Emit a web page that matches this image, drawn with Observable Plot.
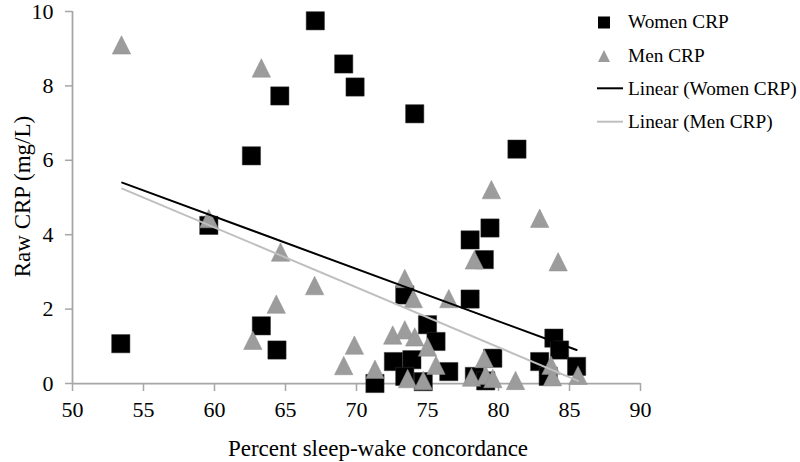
<!DOCTYPE html>
<html><head><meta charset="utf-8">
<script src="https://cdn.jsdelivr.net/npm/d3@7"></script>
<script src="https://cdn.jsdelivr.net/npm/@observablehq/plot@0.6"></script>
<style>
body{margin:0;background:#fff;}
#chart{position:relative;width:800px;height:462px;font-family:"Liberation Serif","Times New Roman",serif;}
#legend{position:absolute;left:590px;top:0;}
</style></head><body><div id="chart"></div>
<script>
// Women CRP (black squares)
const womenX = [53.4,59.6,62.6,63.3,64.4,64.6,67.1,69.1,69.9,74.1,81.3,71.3,73.4,78.0,79.4,78.0,79.0,75.0,75.6,72.6,73.9,73.4,74.7,76.5,79.6,78.3,79.1,83.9,84.3,82.9,85.5,83.5];
const womenY = [1.07,4.25,6.12,1.55,0.90,7.73,9.75,8.59,7.97,7.25,6.30,0.00,2.38,2.27,4.18,3.86,3.33,1.58,1.13,0.59,0.64,0.19,0.05,0.32,0.68,0.19,0.07,1.22,0.90,0.59,0.46,0.19];
// Men CRP (gray triangles)
const menX = [53.45,63.3,59.6,64.65,67.05,64.35,62.7,69.1,69.85,71.3,73.4,74.0,76.5,78.3,79.5,82.9,84.2,72.55,73.4,74.1,75.0,75.6,73.6,74.7,78.1,79.0,79.1,79.6,81.2,83.7,83.8,85.6];
const menY = [9.02,8.40,4.35,3.45,2.55,2.05,1.08,0.40,0.95,0.30,2.74,2.20,2.20,3.24,5.13,4.36,3.19,1.22,1.36,1.17,0.90,0.41,0.05,0.00,0.09,0.59,0.14,0.05,0.00,0.41,0.10,0.14];
// Linear trendlines (endpoints)
const womenTrendX = [53.5, 85.5];
const womenTrendY = [5.40, 0.90];
const menTrendX = [53.5, 85.6];
const menTrendY = [5.24, 0.07];
const xTicks = [50,55,60,65,70,75,80,85,90];
const yTicks = [0,2,4,6,8,10];
const xTitle = "Percent sleep-wake concordance";
const yTitle = "Raw CRP (mg/L)";
const legendLabels = ["Women CRP","Men CRP","Linear (Women CRP)","Linear (Men CRP)"];

const women = womenX.map((x,i)=>({x, y: womenY[i]}));
const men = menX.map((x,i)=>({x, y: menY[i]}));
const womenTrend = womenTrendX.map((x,i)=>({x, y: womenTrendY[i]}));
const menTrend = menTrendX.map((x,i)=>({x, y: menTrendY[i]}));

const isoTriangle = {
  draw(ctx, size) {
    const r = Math.sqrt(size / Math.PI);
    const h = 2 * r;
    ctx.moveTo(0, -2 * h / 3);
    ctx.lineTo(r, h / 3);
    ctx.lineTo(-r, h / 3);
    ctx.closePath();
  }
};

const axisGray = "#a6a6a6";
const plot = Plot.plot({
  width: 800, height: 462,
  marginLeft: 72, marginRight: 160, marginTop: 11, marginBottom: 79,
  style: {fontFamily: '"Liberation Serif","Times New Roman",serif', background: "#fff", color: "#000"},
  x: {domain: [50, 90]},
  y: {domain: [0, 10]},
  marks: [
    Plot.axisX({ticks: xTicks, tickSize: 8, tickPadding: 10, fontSize: 22, stroke: axisGray, strokeWidth: 1.5, fill: "#000", label: null}),
    Plot.axisY({ticks: yTicks, tickSize: 7, tickPadding: 12, fontSize: 22, stroke: axisGray, strokeWidth: 1.5, fill: "#000", label: null}),
    Plot.ruleY([0], {stroke: axisGray, strokeWidth: 1.75}),
    Plot.ruleX([50], {stroke: axisGray, strokeWidth: 1.75}),
    Plot.dot(women, {x: "x", y: "y", symbol: "square", r: 10.3, fill: "#000", stroke: "#333", strokeWidth: 0.5}),
    Plot.dot(men, {x: "x", y: "y", symbol: isoTriangle, r: 9.2, fill: "#9c9c9c", stroke: "#8f8f8f", strokeWidth: 0.5}),
    Plot.line(womenTrend, {x: "x", y: "y", stroke: "#000", strokeWidth: 2}),
    Plot.line(menTrend, {x: "x", y: "y", stroke: "#bfbfbf", strokeWidth: 2}),
    Plot.text([xTitle], {frameAnchor: "bottom", textAnchor: "middle", lineAnchor: "middle", dx: 21.5, dy: 65, fontSize: 23, fill: "#000", text: d => d}),
    Plot.text([yTitle], {frameAnchor: "left", textAnchor: "middle", lineAnchor: "middle", dx: -50, dy: -1, rotate: -90, fontSize: 23, fill: "#000", text: d => d})
  ]
});
const chart = document.getElementById("chart");
chart.appendChild(plot);

// Legend overlay
const lg = d3.select(chart).append("svg").attr("id","legend").attr("width",210).attr("height",140)
  .style("font-family",'"Liberation Serif","Times New Roman",serif');
const ox = 590;
lg.append("rect").attr("x",598-ox).attr("y",16.5).attr("width",12).attr("height",12).attr("fill","#000");
lg.append("path").attr("d",`M${604-ox},50 L${610-ox},62 L${598-ox},62 Z`).attr("fill","#9c9c9c");
lg.append("line").attr("x1",597-ox).attr("x2",623-ox).attr("y1",88.3).attr("y2",88.3).attr("stroke","#000").attr("stroke-width",2);
lg.append("line").attr("x1",597-ox).attr("x2",623-ox).attr("y1",121.7).attr("y2",121.7).attr("stroke","#bfbfbf").attr("stroke-width",2);
const baselines = [28.3, 61.7, 95, 128.3];
legendLabels.forEach((t,i)=>{
  lg.append("text").attr("x",628-ox).attr("y",baselines[i]).attr("font-size",19.3).attr("fill","#000").text(t);
});
</script></body></html>
